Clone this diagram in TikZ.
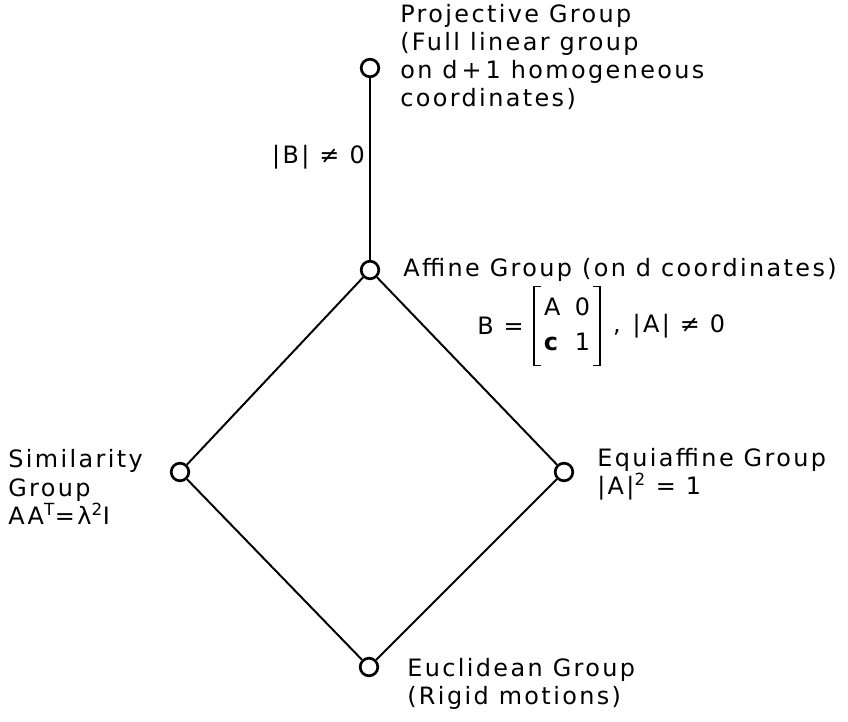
\documentclass[tikz,border=0pt]{standalone}
\usepackage{fontspec}
\setmainfont{DejaVu Sans}[LetterSpace=10]
\usetikzlibrary{positioning}

\begin{document}
\begin{tikzpicture}[x=0.025cm, y=-0.025cm,
	font=\fontsize{17}{20}\selectfont,
	grupo/.style={circle, draw, line width=1.9pt, fill=white, minimum size=0.44cm, inner sep=0pt},
	arista/.style={line width=1.4pt},
	corchete/.style={line width=1.1pt},
	texto/.style={align=left, inner sep=0pt}]
	\useasboundingbox (0,0) rectangle (848,722);
	\node[grupo] (proj) at (370,68) {};
	\node[grupo] (afin) at (370,270) {};
	\node[grupo] (simil) at (180,472) {};
	\node[grupo] (equi) at (564,472) {};
	\node[grupo] (eucl) at (369,667) {};
	\draw[arista] (proj) -- (afin);
	\draw[arista] (afin) -- (simil);
	\draw[arista] (afin) -- (equi);
	\draw[arista] (simil) -- (eucl);
	\draw[arista] (equi) -- (eucl);
	\node[texto, anchor=west] (projtxt) at (400,57) {Projective Group\\(Full linear group\\on d\,+\,1 homogeneous\\coordinates)};
	\node[texto, anchor=east] (bcond) at (365,157) {|B| ≠ 0};
	\node[texto, anchor=west] (afintxt) at (403,270) {Affine Group (on d coordinates)};
	% matriz B con corchetes dibujados
	\node[inner xsep=7pt, inner ysep=3pt] (matb) at (567,326) {\renewcommand{\arraystretch}{1.25}\begin{tabular}{@{}c@{\hspace{0.6em}}c@{}}A&0\\\textbf{c}&1\end{tabular}};
	\draw[corchete] ([xshift=5pt]matb.north west) -- (matb.north west) -- (matb.south west) -- ([xshift=5pt]matb.south west);
	\draw[corchete] ([xshift=-5pt]matb.north east) -- (matb.north east) -- (matb.south east) -- ([xshift=-5pt]matb.south east);
	\node[texto, left=7pt of matb] (bigual) {B =};
	\node[texto, right=9pt of matb] (acond) {,\enspace|A| ≠ 0};
	\node[texto, anchor=west] (simtxt) at (8,487) {Similarity\\Group\\AA\textsuperscript{T}=λ\textsuperscript{2}I};
	\node[texto, anchor=west] (equitxt) at (597,474) {Equiaffine Group\\|A|\textsuperscript{2} = 1};
	\node[texto, anchor=west] (eucltxt) at (407,684) {Euclidean Group\\(Rigid motions)};
\end{tikzpicture}
\end{document}
